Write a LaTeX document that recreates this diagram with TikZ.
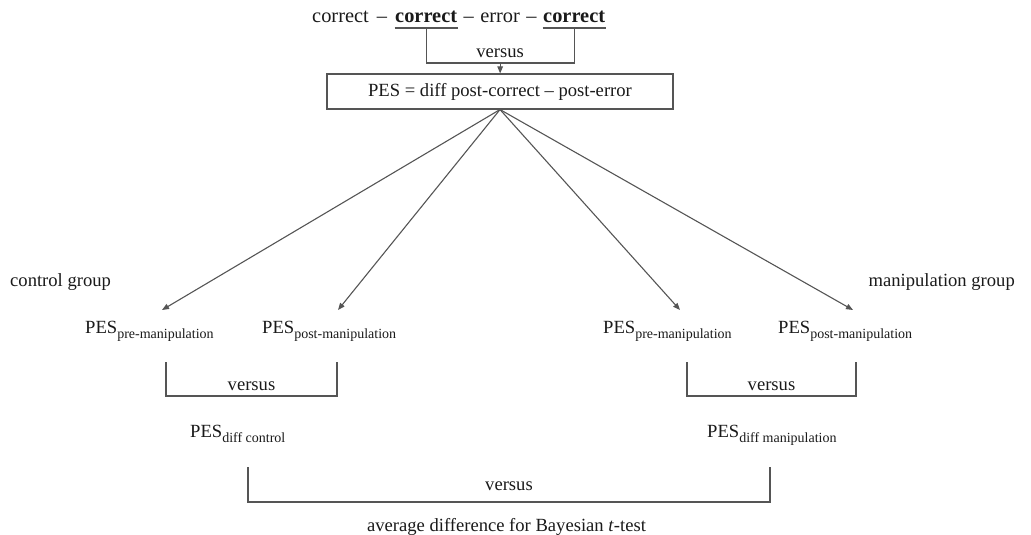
\documentclass[tikz,border=0pt]{standalone}
\usepackage{fontspec}
\setmainfont{Liberation Serif}
\usetikzlibrary{calc,arrows.meta}
\definecolor{lc}{HTML}{555555}
\definecolor{txt}{HTML}{1A1A1A}
\newcommand\pessub[1]{PES\raisebox{-5.5pt}{\fontsize{14}{14}\selectfont #1}}
\begin{document}
\begin{tikzpicture}[x=1pt,y=-1pt,
  every node/.style={inner sep=0pt, text=txt},
  ln/.style={draw=lc, line width=1.1pt},
  arr/.style={ln, -{Triangle[length=7pt,width=5.5pt]}},
  big/.style={font=\fontsize{18.6}{22}\selectfont},
  toptxt/.style={font=\fontsize{20.4}{24}\selectfont, anchor=base west},
  topmid/.style={font=\fontsize{20.4}{24}\selectfont, anchor=base}]
\useasboundingbox (0,0) rectangle (1031,535);
% top line
\node[toptxt] (c1) at (312,23) {correct};
\node[toptxt] (c2) at (395,23) {\bfseries correct};
\node[toptxt] (c3) at (543,23) {\bfseries correct};
\node[topmid] (d1) at ($(c1.base east)!0.5!(c2.base west)$) {–};
\node[topmid] (e1) at ($(c2.base east)!0.5!(c3.base west)$) {error};
\node[topmid] (d2) at ($(c2.base east)!0.5!(e1.base west)$) {–};
\node[topmid] (d3) at ($(e1.base east)!0.5!(c3.base west)$) {–};
\coordinate (u1) at ($(c2.base)+(0,5)$);
\coordinate (u2) at ($(c3.base)+(0,5)$);
\draw[ln] ($(c2.base west)+(-0.5,5)$) -- ($(c2.base east)+(0.5,5)$);
\draw[ln] ($(c3.base west)+(-0.5,5)$) -- ($(c3.base east)+(0.5,5)$);
\coordinate (hb0) at (0,63);
\draw[ln] (u1) -- (u1 |- hb0) -- (u2 |- hb0) -- (u2);
\coordinate (vm) at ($(u1 |- hb0)!0.5!(u2 |- hb0)$);
\node[big, anchor=base] (v0) at ($(vm)+(0,-5)$) {versus};
% PES box
\node[big, draw=lc, line width=1.1pt, minimum width=346pt, minimum height=35pt] (box) at (500,91.5) {PES = diff post-correct – post-error};
\draw[arr] (vm) -- (vm |- box.north);
% group labels
\node[big, anchor=base west] (cg) at (10,286) {control group};
\node[big, anchor=base east] (mg) at (1015,286) {manipulation group};
% PES labels
\node[big, anchor=base west] (cpre) at (85,333) {\pessub{pre-manipulation}};
\node[big, anchor=base west] (cpost) at (262,333) {\pessub{post-manipulation}};
\node[big, anchor=base west] (mpre) at (603,333) {\pessub{pre-manipulation}};
\node[big, anchor=base west] (mpost) at (778,333) {\pessub{post-manipulation}};
\coordinate (t1) at (162,310);
\coordinate (t2) at (338,310);
\coordinate (t3) at (680,310);
\coordinate (t4) at (853,310);
\foreach \t in {t1,t2,t3,t4} \draw[arr] (box.south) -- (\t);
% small brackets
\coordinate (hb1) at (0,396);
\coordinate (b1) at (166,362);
\coordinate (b2) at (337,362);
\coordinate (b3) at (687,362);
\coordinate (b4) at (856,362);
\draw[ln] (b1) -- (b1 |- hb1) -- (b2 |- hb1) -- (b2);
\draw[ln] (b3) -- (b3 |- hb1) -- (b4 |- hb1) -- (b4);
\node[big, anchor=base] (v1) at ($(b1 |- hb1)!0.5!(b2 |- hb1)+(0,-6)$) {versus};
\node[big, anchor=base] (v2) at ($(b3 |- hb1)!0.5!(b4 |- hb1)+(0,-6)$) {versus};
% diff labels
\node[big, anchor=base west] (dc) at (190,437) {\pessub{diff control}};
\node[big, anchor=base west] (dm) at (707,437) {\pessub{diff manipulation}};
% big bracket
\coordinate (hb2) at (0,502);
\coordinate (b5) at (248,467);
\coordinate (b6) at (770,467);
\draw[ln] (b5) -- (b5 |- hb2) -- (b6 |- hb2) -- (b6);
\node[big, anchor=base] (v3) at ($(b5 |- hb2)!0.5!(b6 |- hb2)+(0,-12)$) {versus};
\node[big, anchor=base] (avg) at (506.5,531) {average difference for Bayesian \textit{t}-test};
\end{tikzpicture}
\end{document}
